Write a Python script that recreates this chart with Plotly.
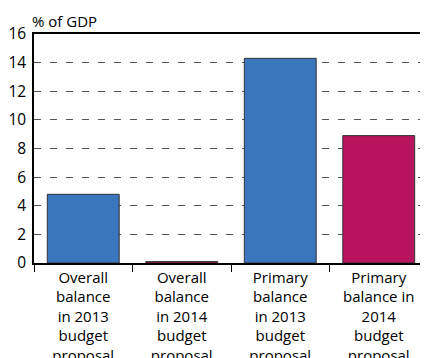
import plotly.graph_objects as go

categories = [
    "Overall<br>balance<br>in 2013<br>budget<br>proposal",
    "Overall<br>balance<br>in 2014<br>budget<br>proposal",
    "Primary<br>balance<br>in 2013<br>budget<br>proposal",
    "Primary<br>balance in<br>2014<br>budget<br>proposal",
]
values = [4.8, 0.1, 14.3, 8.9]
bar_colors = ["#3a76bd", "#b8145e", "#3a76bd", "#b8145e"]
y_ticks = [0, 2, 4, 6, 8, 10, 12, 14, 16]

fig = go.Figure(
    go.Bar(
        x=categories,
        y=values,
        marker=dict(color=bar_colors, line=dict(color="#333333", width=1)),
        width=0.73,
    )
)

# page body has an 8px default margin, so the figure is sized/offset to compensate
fig.update_layout(
    width=420,
    height=350,
    margin=dict(l=26, r=0, t=26, b=95, autoexpand=False),
    paper_bgcolor="white",
    plot_bgcolor="white",
    font=dict(family="Open Sans", size=15, color="black"),
    showlegend=False,
    annotations=[
        dict(
            text="% of GDP",
            xref="paper",
            yref="paper",
            x=-0.01,
            y=1.0,
            xanchor="left",
            yanchor="bottom",
            yshift=1,
            showarrow=False,
            font=dict(size=15),
        )
    ],
)

fig.update_xaxes(
    automargin=False,
    showline=True,
    linecolor="black",
    linewidth=1.5,
    mirror=True,
    ticks="outside",
    tickson="boundaries",
    ticklen=7,
    tickcolor="black",
    showgrid=False,
    tickfont=dict(size=15),
)

fig.update_yaxes(
    automargin=False,
    range=[0, 16],
    tickvals=y_ticks,
    showline=True,
    linecolor="black",
    linewidth=1.5,
    showgrid=True,
    gridcolor="#555555",
    gridwidth=1,
    griddash="7px,9px",
    zeroline=False,
    ticks="",
    ticklabelstandoff=3,
    tickfont=dict(size=15.5),
)

fig.write_html("out.html")
